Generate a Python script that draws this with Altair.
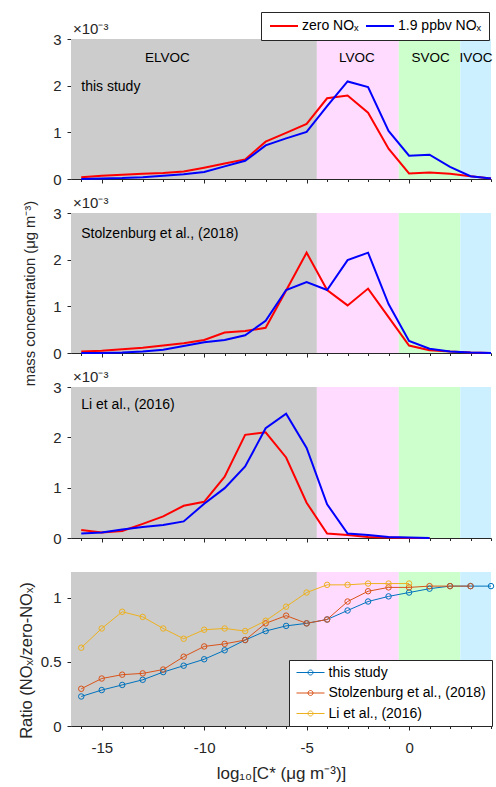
import altair as alt
import pandas as pd

FONT = "Liberation Sans"
INK = "#262626"

# ---------------- data ----------------
X_LIMITS = [-16.5, 4]
X_TICKS = list(range(-16, 5))
XC = list(range(-16, 5))            # log10 C* bins (full)
XC_LI = list(range(-16, 2))         # Li et al. bins
XC_STOLZ_RATIO = list(range(-16, 4))
XC_LI_RATIO = list(range(-16, 1))

this_zero = [0.04, 0.07, 0.09, 0.11, 0.13, 0.16, 0.24, 0.33, 0.42, 0.80, 0.99,
             1.18, 1.73, 1.79, 1.42, 0.65, 0.12, 0.14, 0.11, 0.06, 0.01]
this_no = [0.00, 0.01, 0.02, 0.04, 0.07, 0.10, 0.15, 0.27, 0.39, 0.72, 0.87,
           1.01, 1.56, 2.09, 1.97, 1.03, 0.50, 0.52, 0.26, 0.06, 0.01]
stolz_zero = [0.03, 0.05, 0.08, 0.11, 0.16, 0.21, 0.28, 0.44, 0.47, 0.54, 1.34,
              2.15, 1.35, 1.02, 1.38, 0.77, 0.16, 0.06, 0.03, 0.01, 0.00]
stolz_no = [0.00, 0.00, 0.01, 0.03, 0.07, 0.15, 0.23, 0.28, 0.38, 0.69, 1.35,
            1.52, 1.35, 1.99, 2.15, 1.05, 0.26, 0.09, 0.03, 0.01, 0.00]
li_zero = [0.16, 0.11, 0.14, 0.28, 0.43, 0.64, 0.72, 1.22, 2.05, 2.10, 1.60,
           0.70, 0.09, 0.06, 0.02, 0.01, 0.00, 0.00]
li_no = [0.09, 0.11, 0.17, 0.22, 0.26, 0.33, 0.68, 0.99, 1.42, 2.18, 2.47,
         1.79, 0.67, 0.09, 0.06, 0.02, 0.01, 0.00]

ratio_this = [0.23, 0.28, 0.32, 0.36, 0.42, 0.47, 0.52, 0.59, 0.67, 0.74, 0.78,
              0.80, 0.83, 0.90, 0.97, 1.01, 1.04, 1.07, 1.09, 1.09, 1.09]
ratio_stolz = [0.29, 0.37, 0.40, 0.41, 0.44, 0.54, 0.62, 0.64, 0.67, 0.80, 0.86,
               0.80, 0.83, 0.97, 1.05, 1.08, 1.08, 1.09, 1.09, 1.09]
ratio_li = [0.61, 0.76, 0.89, 0.85, 0.76, 0.68, 0.75, 0.76, 0.74, 0.82, 0.93,
            1.04, 1.10, 1.10, 1.11, 1.11, 1.11]

region_names = ["ELVOC", "LVOC", "SVOC", "IVOC"]
region_start = [-16.5, -4.5, -0.5, 2.5]
region_end = [-4.5, -0.5, 2.5, 4]
region_colors = ["#cccccc", "#ffdcff", "#ccffcc", "#ccf0ff"]
region_label_x = [-11.8, -2.55, 1.05, 3.27]
region_label_y = 2.59

series_names = ["zero NOₓ", "1.9 ppbv NOₓ"]
series_colors = ["#ff0000", "#0000ff"]
ratio_names = ["this study", "Stolzenburg et al., (2018)", "Li et al., (2016)"]
ratio_colors = ["#0072bd", "#d95319", "#edb120"]
panel_labels = ["this study", "Stolzenburg et al., (2018)", "Li et al., (2016)"]
panel_label_y = [1.97, 2.55, 2.64]
exponent_label = "×10⁻³"

HEIGHTS = [140, 140, 151, 154]
WIDTH = 420

# ---------------- helpers ----------------
tick_cond = {"condition": {"test": "datum.value % 5 === 0", "value": 4}, "value": 2.5}


def x_axis(bottom=False):
    kw = dict(values=X_TICKS, tickSize=tick_cond, grid=False, domainColor=INK,
              tickColor=INK)
    if bottom:
        kw.update(labelExpr="datum.value % 5 === 0 ? '' + datum.value : ''",
                  labelPadding=10, labelFontSize=15,
                  title="log₁₀[C* (μg m⁻³)]", titleY=52.7,
                  titleBaseline="alphabetic", titleFontSize=17)
    else:
        kw.update(labels=False, title=None)
    return alt.Axis(**kw)


def y_axis(values, title=None, title_y=None, title_x=None, title_size=15.5):
    kw = dict(values=values, tickSize=4, labelPadding=6, grid=False,
              labelExpr="'' + datum.value", labelFontSize=15,
              domainColor=INK, tickColor=INK)
    if title:
        kw.update(title=title, titleX=title_x, titleY=title_y,
                  titleBaseline="alphabetic", titleFontSize=title_size)
    else:
        kw.update(title=None)
    return alt.Axis(**kw)


def region_layer(ymax, xsc, ysc, xax, yax):
    reg = pd.DataFrame({"start": region_start, "end": region_end,
                        "fill": region_colors, "y0": [0] * 4, "y1": [ymax] * 4})
    return alt.Chart(reg).mark_rect(strokeWidth=0).encode(
        x=alt.X("start:Q", scale=xsc, axis=xax), x2="end:Q",
        y=alt.Y("y0:Q", scale=ysc, axis=yax), y2="y1:Q",
        fill=alt.Fill("fill:N", scale=None))


legend_top = alt.Legend(
    title=None, orient="none", legendX=190, legendY=-27,
    direction="horizontal", columns=2,
    symbolType="M-2.8,0L2.8,0", symbolSize=100, symbolStrokeWidth=2,
    symbolOffset=9, labelOffset=11, labelFontSize=14, labelFont=FONT,
    labelColor="black", labelLimit=300, strokeColor=INK, fillColor="white",
    padding=7, columnPadding=3)

legend_ratio = alt.Legend(
    title=None, orient="none", legendX=218, legendY=88,
    direction="vertical", columns=1,
    symbolType="M-2.8,0L2.8,0M0.5,0A0.5,0.5,0,1,1,-0.5,0A0.5,0.5,0,1,1,0.5,0",
    symbolSize=100, symbolStrokeWidth=1, symbolOffset=9,
    symbolFillColor="transparent", symbolOpacity=1,
    labelOffset=11, labelFontSize=14, labelFont=FONT, labelColor="black",
    labelLimit=300, strokeColor=INK, fillColor="white", padding=5.5,
    rowPadding=6.5)


def conc_panel(idx, xs, zero, no, legend=None, y_title=None, title_y=None,
               title_x=None, region_text=False):
    h = HEIGHTS[idx]
    xsc = alt.Scale(domain=X_LIMITS, nice=False, zero=False)
    ysc = alt.Scale(domain=[0, 3], nice=False, zero=False)
    xax = x_axis()
    yax = y_axis([0, 1, 2, 3], y_title, title_y, title_x, 14.8)
    df = pd.DataFrame({"x": xs + xs, "value": zero + no,
                       "series": [series_names[0]] * len(zero) + [series_names[1]] * len(no)})
    lines = alt.Chart(df).mark_line(strokeWidth=2).encode(
        x=alt.X("x:Q", scale=xsc, axis=xax),
        y=alt.Y("value:Q", scale=ysc, axis=yax),
        color=alt.Color("series:N", scale=alt.Scale(domain=series_names, range=series_colors),
                        legend=legend))
    lab = pd.DataFrame({"x": [-16], "y": [panel_label_y[idx]], "t": [panel_labels[idx]]})
    text = alt.Chart(lab).mark_text(align="left", baseline="middle", fontSize=14,
                                    color="black", font=FONT).encode(
        x=alt.X("x:Q", scale=xsc, axis=xax), y=alt.Y("y:Q", scale=ysc, axis=yax), text="t:N")
    ex = pd.DataFrame({"x": [X_LIMITS[0]], "y": [3], "t": [exponent_label]})
    extext = alt.Chart(ex).mark_text(align="left", baseline="alphabetic", fontSize=15,
                                     dx=2, dy=-5, color=INK, font=FONT).encode(
        x=alt.X("x:Q", scale=xsc, axis=xax), y=alt.Y("y:Q", scale=ysc, axis=yax), text="t:N")
    layers = [region_layer(3, xsc, ysc, xax, yax), lines, text, extext]
    if region_text:
        rl = pd.DataFrame({"x": region_label_x, "y": [region_label_y] * 4, "t": region_names})
        layers.append(alt.Chart(rl).mark_text(align="center", baseline="middle", fontSize=13.5,
                                              color="black", font=FONT).encode(
            x=alt.X("x:Q", scale=xsc, axis=xax), y=alt.Y("y:Q", scale=ysc, axis=yax), text="t:N"))
    return alt.layer(*layers).properties(width=WIDTH, height=h)


p1 = conc_panel(0, XC, this_zero, this_no, legend=legend_top, region_text=True)
p2 = conc_panel(1, XC, stolz_zero, stolz_no, legend=None,
                y_title="mass concentration (μg m⁻³)", title_y=80, title_x=-37)
p3 = conc_panel(2, XC_LI, li_zero, li_no, legend=None)

# ratio panel
h4 = HEIGHTS[3]
xsc4 = alt.Scale(domain=X_LIMITS, nice=False, zero=False)
ysc4 = alt.Scale(domain=[0, 1.2], nice=False, zero=False)
xax4 = x_axis(bottom=True)
yax4 = y_axis([0, 0.5, 1], "Ratio (NOₓ/zero-NOₓ)", 88, -40, 16.5)
rdf = pd.DataFrame({
    "x": XC + XC_STOLZ_RATIO + XC_LI_RATIO,
    "value": ratio_this + ratio_stolz + ratio_li,
    "series": [ratio_names[0]] * len(ratio_this) + [ratio_names[1]] * len(ratio_stolz)
    + [ratio_names[2]] * len(ratio_li)})
rcol = alt.Color("series:N", scale=alt.Scale(domain=ratio_names, range=ratio_colors),
                 legend=legend_ratio)
rlines = alt.Chart(rdf).mark_line(strokeWidth=1).encode(
    x=alt.X("x:Q", scale=xsc4, axis=xax4), y=alt.Y("value:Q", scale=ysc4, axis=yax4), color=rcol)
rpts = alt.Chart(rdf).mark_point(filled=False, size=30, strokeWidth=1, opacity=1).encode(
    x=alt.X("x:Q", scale=xsc4, axis=xax4), y=alt.Y("value:Q", scale=ysc4, axis=yax4), color=rcol)
p4 = alt.layer(region_layer(1.2, xsc4, ysc4, xax4, yax4), rlines, rpts).properties(
    width=WIDTH, height=h4)

chart = alt.vconcat(p1, p2, p3, p4, spacing=34, bounds="flush").resolve_scale(
    color="independent").properties(
    padding={"left": 17, "top": 11, "right": 0, "bottom": 0}
).configure_axis(
    labelFont=FONT, titleFont=FONT, labelColor=INK, titleColor=INK,
    titleFontWeight="normal", grid=False
).configure_view(strokeWidth=0)

chart.save("out.html", embed_options={"renderer": "svg", "actions": False})
